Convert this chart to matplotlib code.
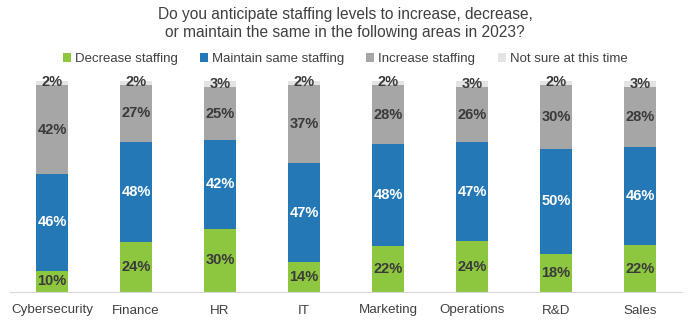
import matplotlib.pyplot as plt
import numpy as np

categories = ['Cybersecurity', 'Finance', 'HR', 'IT', 'Marketing', 'Operations', 'R&D', 'Sales']
decrease = [10, 24, 30, 14, 22, 24, 18, 22]
maintain = [46, 48, 42, 47, 48, 47, 50, 46]
increase = [42, 27, 25, 37, 28, 26, 30, 28]
not_sure = [2, 2, 3, 2, 2, 3, 2, 3]
series_names = ['Decrease staffing', 'Maintain same staffing', 'Increase staffing', 'Not sure at this time']

colors = ['#8DC63F', '#2478B5', '#A6A6A6', '#E4E4E4']
text_colors = ['#3A3A3A', 'white', '#3A3A3A', '#3A3A3A']

plt.rcParams['font.family'] = ['Liberation Sans', 'DejaVu Sans']

fig = plt.figure(figsize=(6.9, 3.23), dpi=100)
ax = fig.add_axes([10 / 690, 31 / 323, 672 / 690, 211 / 323])

data = np.array([decrease, maintain, increase, not_sure], dtype=float)
# rounded percentages don't always sum to 100; the chart shows full-height bars
shares = data / data.sum(axis=0) * 100

x = np.arange(len(categories))
bottom = np.zeros(len(categories))
handles = []
for vals, shown, name, col, tc in zip(shares, data, series_names, colors, text_colors):
    bars = ax.bar(x, vals, 0.39, bottom=bottom, color=col, label=name, zorder=2)
    handles.append(bars)
    for xi, b, v, s in zip(x, bottom, vals, shown):
        ypos = b + v / 2
        if v < 5:
            ypos = b + v / 2 + 0.3
        ax.text(xi, ypos, f'{int(s)}%', ha='center', va='center', fontsize=10.5,
                fontweight='bold', color=tc, zorder=3)
    bottom += vals

ax.set_xlim(-0.5, len(categories) - 0.5)
ax.set_ylim(0, 100)
ax.set_yticks([])
ax.set_xticks(x)
ax.set_xticklabels(categories, fontsize=9.6, color='#404040')
ax.tick_params(axis='x', length=0, pad=9)
for s in ['top', 'right', 'left']:
    ax.spines[s].set_visible(False)
ax.spines['bottom'].set_color('#D9D9D9')

fig.text(0.5, 0.926, 'Do you anticipate staffing levels to increase, decrease,\nor maintain the same in the following areas in 2023?',
         ha='center', va='center', fontsize=11.2, color='#404040', linespacing=1.25)

fig.legend(handles=handles, loc='center', bbox_to_anchor=(0.5, 0.817), ncol=4, frameon=False,
           fontsize=9.5, handlelength=0.6, handleheight=0.6, handletextpad=0.3, columnspacing=1.7,
           labelcolor='#404040')

fig.savefig('out.png', dpi=100)
